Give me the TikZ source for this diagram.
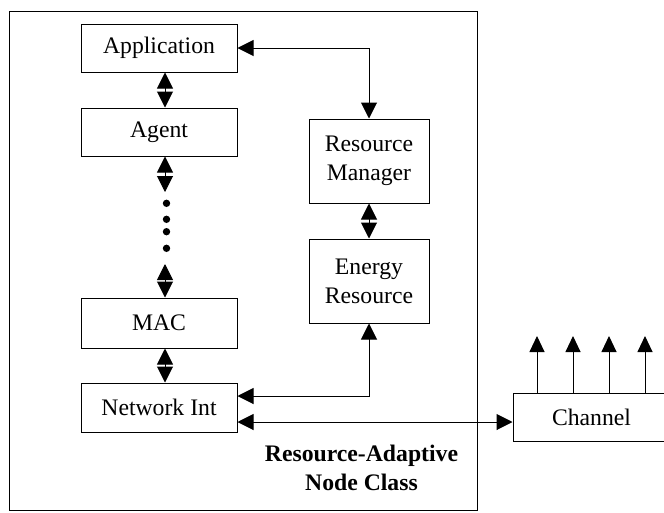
\documentclass[tikz,border=0pt]{standalone}
\usepackage{fontspec}
\setmainfont{Liberation Serif}
\usetikzlibrary{arrows.meta,calc}
\begin{document}
\begin{tikzpicture}[x=1pt,y=-1pt,
  every node/.style={font=\fontsize{23.7}{29}\selectfont},
  blk/.style={draw,line width=1pt,inner sep=0pt,align=center},
  conn/.style={line width=1pt,{Triangle[length=16pt,width=16pt]}-{Triangle[length=16pt,width=16pt]}},
  uparr/.style={line width=1pt,-{Triangle[length=16pt,width=15pt]}},
  dotmark/.style={circle,fill,inner sep=0pt,minimum size=7.4pt}]
\useasboundingbox (0,0) rectangle (664,512);
\draw[line width=1pt] (9,11) rectangle (477,510);
\node[blk,minimum width=156pt,minimum height=48pt] (app) at (159,48) {Application};
\node[blk,minimum width=156pt,minimum height=48pt] (agent) at (159,132) {Agent};
\node[blk,minimum width=156pt,minimum height=50pt] (mac) at (159,323) {MAC};
\node[blk,minimum width=156pt,minimum height=49pt] (net) at (159,407.5) {Network Int};
\node[blk,minimum width=120pt,minimum height=84pt] (rm) at (369,161) {Resource\\Manager};
\node[blk,minimum width=120pt,minimum height=84pt] (er) at (369,281) {Energy\\Resource};
\node[blk,minimum width=157pt,minimum height=48pt] (ch) at (591.5,417) {Channel};
\node[align=center,font=\fontsize{23.7}{29}\selectfont\bfseries] (lbl) at (361.5,468) {Resource-Adaptive\\Node Class};
\coordinate (cx) at (165,0);
\coordinate (d1) at (165,192);
\coordinate (d2) at (165,264);
\coordinate (ny1) at (0,396);
\coordinate (ny2) at (0,422);
\node[dotmark] (p1) at (166.5,203.3) {};
\node[dotmark] (p2) at (166.5,219.3) {};
\node[dotmark] (p3) at (166.5,231.7) {};
\node[dotmark] (p4) at (166.5,248.3) {};
\draw[conn] (app.south -| cx) -- (agent.north -| cx);
\draw[conn] (agent.south -| cx) -- (d1);
\draw[conn] (d2) -- (mac.north -| cx);
\draw[conn] (mac.south -| cx) -- (net.north -| cx);
\draw[conn] (app.east) -| (rm.north);
\draw[conn] (rm.south) -- (er.north);
\draw[conn] (net.east |- ny1) -| (er.south);
\draw[conn] (net.east |- ny2) -- (ch.west |- ny2);
\coordinate (t1) at (537,336);
\coordinate (t2) at (573,336);
\coordinate (t3) at (609,336);
\coordinate (t4) at (645,336);
\draw[uparr] (ch.north -| t1) -- (t1);
\draw[uparr] (ch.north -| t2) -- (t2);
\draw[uparr] (ch.north -| t3) -- (t3);
\draw[uparr] (ch.north -| t4) -- (t4);
\end{tikzpicture}
\end{document}
